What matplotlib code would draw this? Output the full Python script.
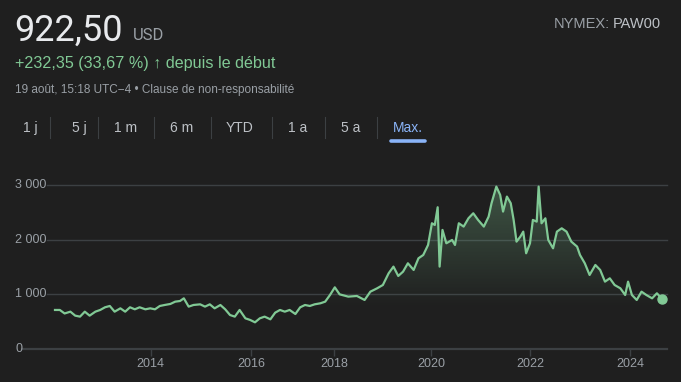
import matplotlib.pyplot as plt
import matplotlib.transforms as mtransforms
import numpy as np
from matplotlib.lines import Line2D

# weekly samples (week number since the start of the series) and price in USD
week = [0, 5, 10, 16, 21, 26, 31, 36, 42, 47, 52, 57, 62, 68, 73, 78, 83, 88,
        94, 99, 104, 109, 114, 120, 125, 130, 134, 139, 144, 151, 156, 161,
        166, 172, 177, 182, 187, 192, 198, 203, 208, 213, 218, 224, 229, 234,
        239, 244, 250, 255, 260, 265, 270, 276, 281, 286, 291, 296, 305, 314,
        322, 328, 335, 341, 347, 352, 357, 362, 367, 373, 378, 383, 388, 392,
        395, 398, 400, 403, 407, 413, 416, 420, 425, 430, 435, 440, 446, 451,
        454, 459, 463, 466, 470, 474, 477, 480, 484, 487, 490, 494, 497, 501,
        503, 506, 510, 513, 518, 522, 527, 532, 537, 543, 546, 551, 556, 562,
        567, 572, 577, 582, 588, 593, 596, 600, 605, 610, 615, 621, 626, 631]
price = [714, 714, 650, 683, 610, 592, 683, 610, 683, 714, 763, 787, 683, 744,
         683, 763, 726, 763, 726, 744, 726, 787, 805, 824, 866, 878, 927, 775,
         805, 817, 775, 817, 744, 805, 726, 622, 592, 714, 561, 531, 488, 561,
         592, 543, 665, 714, 683, 714, 640, 763, 805, 787, 817, 836, 866, 988,
         1128, 1000, 958, 970, 897, 1049, 1110, 1171, 1385, 1507, 1336, 1415,
         1568, 1446, 1659, 1720, 1903, 2300, 2269, 2593, 1507, 2178, 1934, 1995,
         1903, 2300, 2239, 2391, 2483, 2361, 2239, 2422, 2666, 2971, 2818, 2513,
         2788, 2666, 2361, 1964, 2056, 2147, 1751, 1934, 2361, 2330, 2971, 2300,
         2391, 1995, 1842, 2147, 2208, 2147, 1964, 1873, 1720, 1568, 1354, 1537,
         1446, 1232, 1293, 1171, 1110, 988, 1232, 988, 897, 1049, 988, 927, 1019,
         922.5]

years = ["2014", "2016", "2018", "2020", "2022", "2024"]
year_week = [99.5, 204, 290, 391, 494, 598]
y_ticks = [0, 1000, 2000, 3000]
y_labels = ["0", "1 000", "2 000", "3 000"]
tabs = ["1 j", "5 j", "1 m", "6 m", "YTD", "1 a", "5 a", "Max."]

BG = "#1f1f1f"
GRID = "#3c4043"
GREEN = "#81c995"
GREY = "#9aa0a6"
LIGHT = "#bdc1c6"
WHITE = "#e8eaed"
BLUE = "#8ab4f8"
SANS = ["Liberation Sans", "DejaVu Sans"]

W, H = 681, 382


def fx(px):
    return px / W


def fy(py):
    return 1 - py / H


fig = plt.figure(figsize=(6.81, 3.82), dpi=100, facecolor=BG)

# header
fig.text(fx(14), fy(41), "922,50", color=WHITE, fontsize=26, family="Roboto",
         va="baseline")
fig.text(fx(133), fy(40), "USD", color=GREY, fontsize=12, family="Roboto",
         va="baseline")
fig.text(fx(15), fy(68), "+232,35 (33,67 %) \u2191 depuis le d\u00e9but", color=GREEN,
         fontsize=11.6, family=SANS, va="baseline")
fig.text(fx(15), fy(93), "19 ao\u00fbt, 15:18 UTC\u22124 \u2022 Clause de non-responsabilit\u00e9",
         color=GREY, fontsize=8.5, family=SANS, va="baseline")
fig.text(fx(610), fy(28), "NYMEX:", color=GREY, fontsize=10.5, family=SANS,
         ha="right", va="baseline")
fig.text(fx(613), fy(28), "PAW00", color=LIGHT, fontsize=10.5, family=SANS,
         ha="left", va="baseline")

# range tabs
tab_x = [30.5, 79, 126, 181.5, 240, 297.5, 350.5, 408]
for t, x in zip(tabs, tab_x):
    fig.text(fx(x), fy(128), t, color=BLUE if t == "Max." else LIGHT,
             fontsize=10, family=SANS, ha="center", va="center")
for x in [50, 98, 154, 211, 272, 325, 377]:
    fig.add_artist(Line2D([fx(x), fx(x)], [fy(117), fy(138)], color=GRID, lw=0.8))
fig.add_artist(Line2D([fx(391), fx(425)], [fy(141), fy(141)], color=BLUE, lw=2.6,
                      solid_capstyle="round"))

# chart
ax = fig.add_axes([fx(15), fy(349), fx(667) - fx(15), (349 - 185) / H])
ax.set_facecolor(BG)
ax.set_xlim(-41.6, 636.5)
ax.set_ylim(0, 3000)
for s in ax.spines.values():
    s.set_visible(False)
ax.set_yticks([])

trans = mtransforms.blended_transform_factory(ax.transAxes, ax.transData)
for v, lab in zip(y_ticks, y_labels):
    ax.axhline(v, xmin=0.011 if v == 0 else 0.049, xmax=1, color=GRID,
               lw=1.6 if v == 0 else 1.0, clip_on=False, zorder=1)
    ax.text(0, v, lab, transform=trans, color=GREY, fontsize=9, family=SANS,
            ha="left", va="center")

ax.set_xticks(year_week, years)
ax.tick_params(axis="x", length=5, width=1, color=GRID, labelcolor=GREY,
               labelsize=9, pad=1.5)
for lab in ax.get_xticklabels():
    lab.set_family(SANS)

# gradient fill under the line
fill = ax.fill_between(week, price, 0, color="none", lw=0)
yy = np.linspace(0, 3000, 300)
alpha = np.clip((yy - 750) / (3000 - 750), 0, 1) * 0.32
img = np.zeros((300, 1, 4))
img[:, 0, :3] = np.array([0x81, 0xc9, 0x95]) / 255
img[:, 0, 3] = alpha
im = ax.imshow(img, extent=[-41.6, 636.5, 0, 3000], origin="lower",
               aspect="auto", zorder=2, interpolation="bilinear")
im.set_clip_path(fill.get_paths()[0], transform=ax.transData)

ax.plot(week, price, color=GREEN, lw=1.6, zorder=3, solid_joinstyle="round")
ax.plot(week[-1], price[-1], "o", ms=6.5, color=GREEN, zorder=4, clip_on=False)

fig.savefig("out.png", dpi=100, facecolor=BG)
